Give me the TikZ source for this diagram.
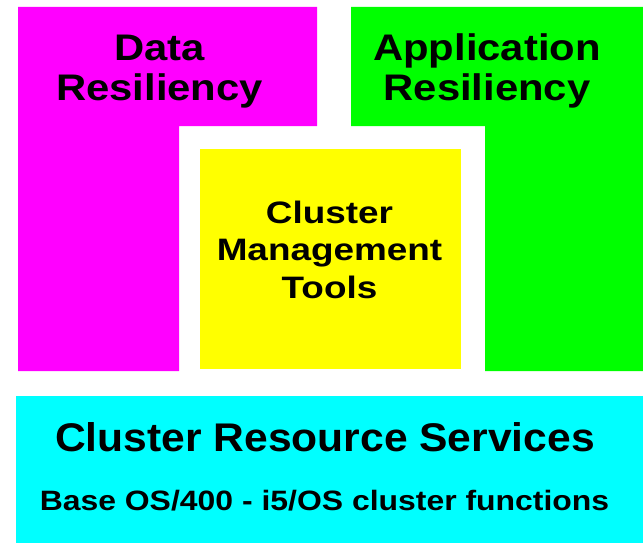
\documentclass[tikz,border=0pt]{standalone}
\usepackage{fontspec}
\newfontfamily\fTop[FakeStretch=1.13]{Liberation Sans}
\newfontfamily\fMid[FakeStretch=1.19]{Liberation Sans}
\newfontfamily\fCrs[FakeStretch=1.065]{Liberation Sans}
\newfontfamily\fBase[FakeStretch=1.14]{Liberation Sans}
\definecolor{cMag}{RGB}{255,0,255}
\definecolor{cGrn}{RGB}{0,255,0}
\definecolor{cYel}{RGB}{255,255,0}
\definecolor{cCyn}{RGB}{0,255,255}
\tikzset{
  lbl/.style={anchor=base, inner sep=0pt, text=black},
  toptxt/.style={lbl, font=\fTop\bfseries\fontsize{37}{40}\selectfont},
  midtxt/.style={lbl, font=\fMid\bfseries\fontsize{31}{37}\selectfont},
  crstxt/.style={lbl, font=\fCrs\bfseries\fontsize{40}{44}\selectfont},
  basetxt/.style={lbl, font=\fBase\bfseries\fontsize{28}{32}\selectfont}
}
\begin{document}
\begin{tikzpicture}[x=1pt,y=-1pt]
\useasboundingbox (0,0) rectangle (643,543);
% blocks
\fill[cMag] (18,7) -- (317,7) -- (317,126) -- (179,126) -- (179,371) -- (18,371) -- cycle;
\fill[cGrn] (351,7) -- (643,7) -- (643,371) -- (485,371) -- (485,126) -- (351,126) -- cycle;
\fill[cYel] (200,149) rectangle (461,369);
\fill[cCyn] (16,396) rectangle (643,543);
% labels
\node[toptxt] (dr1) at (159.5,60.7) {Data};
\node[toptxt] (dr2) at (159.5,101) {Resiliency};
\node[toptxt] (ar1) at (487,61) {Application};
\node[toptxt] (ar2) at (487,101) {Resiliency};
\node[midtxt] (cm1) at (329.5,223.3) {Cluster};
\node[midtxt] (cm2) at (329.5,260.8) {Management};
\node[midtxt] (cm3) at (329.5,298.3) {Tools};
\node[crstxt] (crs) at (325,451.7) {Cluster Resource Services};
\node[basetxt] (bos) at (324.5,510) {Base OS/400 - i5/OS cluster functions};
\end{tikzpicture}
\end{document}
